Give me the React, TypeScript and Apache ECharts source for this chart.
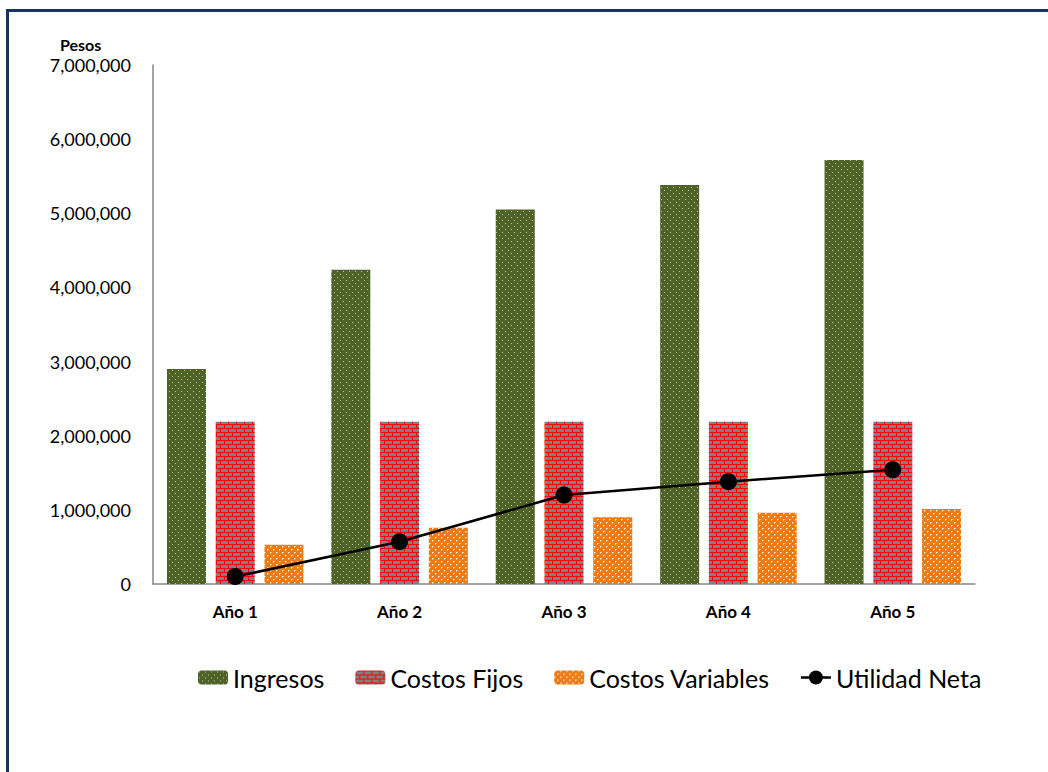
import React, { useEffect, useRef } from "react";
import * as echarts from "echarts";

const categories = ["Año 1", "Año 2", "Año 3", "Año 4", "Año 5"];
const ingresos = [2900000, 4240000, 5050000, 5380000, 5720000];
const costosFijos = [2190000, 2190000, 2190000, 2190000, 2190000];
const costosVariables = [530000, 760000, 900000, 960000, 1010000];
const utilidadNeta = [100000, 570000, 1200000, 1380000, 1540000];
const yTicks = { min: 0, max: 7000000, interval: 1000000 };

function makeTile(w: number, h: number, draw: (c: CanvasRenderingContext2D) => void) {
  const cv = document.createElement("canvas");
  cv.width = w;
  cv.height = h;
  const ctx = cv.getContext("2d")!;
  draw(ctx);
  return cv;
}

export default function App() {
  const ref = useRef<HTMLDivElement>(null);
  useEffect(() => {
    if (!ref.current) return;
    const chart = echarts.init(ref.current, undefined, { renderer: "svg" });

    const dots = makeTile(6, 6, (c) => {
      c.fillStyle = "#4F6228";
      c.fillRect(0, 0, 6, 6);
      c.fillStyle = "#B7C996";
      c.fillRect(1, 1, 1, 1);
      c.fillRect(4, 4, 1, 1);
    });
    const bricks = makeTile(8, 8, (c) => {
      c.fillStyle = "#808080";
      c.fillRect(0, 0, 8, 8);
      c.fillStyle = "#FF0000";
      c.fillRect(0, 0, 8, 1);
      c.fillRect(0, 4, 8, 1);
      c.fillRect(0, 1, 1, 3);
      c.fillRect(4, 5, 1, 3);
    });
    const circles = makeTile(6, 6, (c) => {
      c.fillStyle = "#EE7A14";
      c.fillRect(0, 0, 6, 6);
      c.fillStyle = "#FFF4E8";
      c.fillRect(0, 0, 1, 1);
      c.fillRect(3, 3, 1, 1);
      c.fillStyle = "#F9B77A";
      c.fillRect(1, 0, 1, 1);
      c.fillRect(0, 1, 1, 1);
      c.fillRect(4, 3, 1, 1);
      c.fillRect(3, 4, 1, 1);
    });

    const lineIcon =
      "path://M0,5.8 L8.5,5.8 L8.5,8.2 L0,8.2 Z M21.5,5.8 L30,5.8 L30,8.2 L21.5,8.2 Z M8,7 A7,7 0 1,1 22,7 A7,7 0 1,1 8,7 Z";

    const font = "Lato";
    chart.setOption({
      animation: false,
      textStyle: { fontFamily: font },
      grid: { left: 153, right: 73, top: 65, bottom: 188, containLabel: false },
      legend: {
        left: 193,
        top: 660,
        itemWidth: 30,
        itemHeight: 14,
        itemGap: 31,
        textStyle: { fontSize: 25, color: "#000", fontFamily: font },
        data: [
          "Ingresos",
          "Costos Fijos",
          "Costos Variables",
          { name: "Utilidad Neta", icon: lineIcon, itemStyle: { color: "#000" } },
        ],
      },
      xAxis: {
        type: "category",
        data: categories,
        axisLine: { show: true, lineStyle: { color: "#868686", width: 1.5 } },
        axisTick: { show: false },
        axisLabel: { fontSize: 17, fontWeight: "bold", color: "#000", margin: 19, fontFamily: font },
      },
      yAxis: {
        type: "value",
        min: yTicks.min,
        max: yTicks.max,
        interval: yTicks.interval,
        splitLine: { show: false },
        axisLine: { show: true, lineStyle: { color: "#868686", width: 1.5 } },
        axisTick: { show: false },
        axisLabel: {
          fontSize: 18,
          color: "#000",
          margin: 22,
          fontFamily: font,
          formatter: (v: number) => v.toLocaleString("en-US"),
        },
      },
      graphic: [
        {
          type: "text",
          left: 60,
          top: 36,
          style: { text: "Pesos", fontSize: 16, fontWeight: "bold", fill: "#000", fontFamily: font },
        },
      ],
      series: [
        {
          name: "Ingresos",
          type: "bar",
          data: ingresos,
          barWidth: 39,
          barGap: "25%",
          itemStyle: { color: { image: dots, repeat: "repeat" } },
        },
        {
          name: "Costos Fijos",
          type: "bar",
          data: costosFijos,
          barWidth: 39,
          barGap: "25%",
          itemStyle: { color: { image: bricks, repeat: "repeat" } },
        },
        {
          name: "Costos Variables",
          type: "bar",
          data: costosVariables,
          barWidth: 39,
          barGap: "25%",
          itemStyle: { color: { image: circles, repeat: "repeat" } },
        },
        {
          name: "Utilidad Neta",
          type: "line",
          data: utilidadNeta,
          symbol: "circle",
          symbolSize: 17,
          lineStyle: { color: "#000", width: 2.5 },
          itemStyle: { color: "#000" },
          z: 5,
        },
      ],
    });
    return () => chart.dispose();
  }, []);

  return (
    <div style={{ position: "absolute", left: 0, top: 0, width: 1048, height: 772, overflow: "hidden", background: "#fff" }}>
      <div
        style={{
          position: "absolute",
          left: 6,
          top: 9,
          width: 1100,
          height: 900,
          borderTop: "3px solid #17365D",
          borderLeft: "3px solid #17365D",
        }}
      />
      <div ref={ref} style={{ position: "absolute", left: 0, top: 0, width: 1048, height: 772 }} />
    </div>
  );
}
